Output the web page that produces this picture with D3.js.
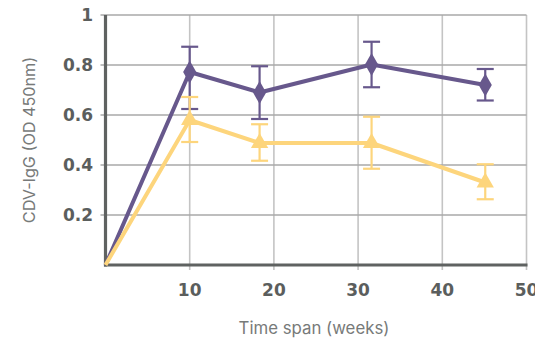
<!DOCTYPE html>
<html>
<head>
<meta charset="utf-8">
<script src="https://cdn.jsdelivr.net/npm/d3@7"></script>
<style>
  html, body { margin: 0; padding: 0; background: #fff; }
  svg { display: block; }
</style>
</head>
<body>
<svg id="chart" width="535" height="344"></svg>
<script>
// Time points (weeks) and antibody levels, with error bar bounds
const weeks = [0, 10, 18.3, 31.6, 45.1];
const groupA = [0, 0.772, 0.69, 0.802, 0.72];
const groupALow = [null, 0.624, 0.584, 0.711, 0.658];
const groupAHigh = [null, 0.873, 0.795, 0.893, 0.784];
const groupB = [0, 0.58, 0.488, 0.488, 0.33];
const groupBLow = [null, 0.492, 0.417, 0.385, 0.263];
const groupBHigh = [null, 0.672, 0.563, 0.593, 0.403];
const xTicks = [10, 20, 30, 40, 50];
const yTicks = [0.2, 0.4, 0.6, 0.8, 1];
const yTickLabels = ["0.2", "0.4", "0.6", "0.8", "1"];

const svg = d3.select("#chart");
const x = d3.scaleLinear().domain([0, 50]).range([105.5, 526.5]);
const y = d3.scaleLinear().domain([0, 1]).range([265, 15]);

const purple = "#67588c";
const yellow = "#fdd57c";
const axisGrey = "#5f6261";
const tickFont = "'DejaVu Sans', Inter, sans-serif";
const titleFont = "Inter, 'Open Sans', sans-serif";

// Vertical grid lines
svg.append("g").selectAll("line").data(xTicks).join("line")
  .attr("x1", d => x(d)).attr("x2", d => x(d))
  .attr("y1", y(1)).attr("y2", y(0) + 5)
  .attr("stroke", "#c4c4c4").attr("stroke-width", 1.6);

// Horizontal grid lines
svg.append("g").selectAll("line").data(yTicks).join("line")
  .attr("x1", x(0) - 5).attr("x2", x(50))
  .attr("y1", d => y(d)).attr("y2", d => y(d))
  .attr("stroke", "#a8a8a8").attr("stroke-width", 1.3);

// Axes lines
svg.append("line")
  .attr("x1", x(0)).attr("x2", x(0)).attr("y1", y(1)).attr("y2", y(0) + 1.5)
  .attr("stroke", axisGrey).attr("stroke-width", 3.2);
svg.append("line")
  .attr("x1", x(0) - 1.5).attr("x2", x(50) + 1).attr("y1", y(0)).attr("y2", y(0))
  .attr("stroke", axisGrey).attr("stroke-width", 3.2);

// Tick labels
svg.append("g").selectAll("text").data(yTicks).join("text")
  .attr("x", 93).attr("y", d => y(d)).attr("dy", "0.36em")
  .attr("text-anchor", "end")
  .attr("font-family", tickFont).attr("font-weight", 700)
  .attr("font-size", 17).attr("fill", "#5b5e5d")
  .text((d, i) => yTickLabels[i]);

svg.append("g").selectAll("text").data(xTicks).join("text")
  .attr("x", d => x(d)).attr("y", 295.5)
  .attr("text-anchor", "middle")
  .attr("font-family", tickFont).attr("font-weight", 700)
  .attr("font-size", 17).attr("fill", "#5b5e5d")
  .text(d => d);

// Axis titles
svg.append("text")
  .attr("x", 314).attr("y", 334)
  .attr("text-anchor", "middle")
  .attr("font-family", titleFont)
  .attr("font-size", 16.8).attr("fill", "#777a79")
  .text("Time span (weeks)");

svg.append("text")
  .attr("transform", "translate(35,140) rotate(-90)")
  .attr("text-anchor", "middle")
  .attr("font-family", titleFont)
  .attr("font-size", 16.2).attr("fill", "#777a79")
  .text("CDV-IgG (OD 450nm)");

function drawSeries(vals, lows, highs, color, shape) {
  const g = svg.append("g");
  const pts = weeks.map((w, i) => ({ w, v: vals[i], lo: lows[i], hi: highs[i] }));
  const line = d3.line().x(d => x(d.w)).y(d => y(d.v));
  g.append("path").datum(pts).attr("d", line)
    .attr("fill", "none").attr("stroke", color)
    .attr("stroke-width", 4).attr("stroke-linejoin", "round");

  const eb = pts.filter(d => d.lo !== null);
  const cap = 8.5;
  g.selectAll(".bar").data(eb).join("line")
    .attr("x1", d => x(d.w)).attr("x2", d => x(d.w))
    .attr("y1", d => y(d.lo)).attr("y2", d => y(d.hi))
    .attr("stroke", color).attr("stroke-width", 2.2);
  g.selectAll(".capHi").data(eb).join("line")
    .attr("x1", d => x(d.w) - cap).attr("x2", d => x(d.w) + cap)
    .attr("y1", d => y(d.hi)).attr("y2", d => y(d.hi))
    .attr("stroke", color).attr("stroke-width", 2.2);
  g.selectAll(".capLo").data(eb).join("line")
    .attr("x1", d => x(d.w) - cap).attr("x2", d => x(d.w) + cap)
    .attr("y1", d => y(d.lo)).attr("y2", d => y(d.lo))
    .attr("stroke", color).attr("stroke-width", 2.2);

  g.selectAll(".marker").data(eb).join("path")
    .attr("transform", d => `translate(${x(d.w)},${y(d.v)})`)
    .attr("d", d3.symbol().type(shape).size(shape === d3.symbolDiamond ? 150 : 130))
    .attr("fill", color);
}

drawSeries(groupA, groupALow, groupAHigh, purple, d3.symbolDiamond);
drawSeries(groupB, groupBLow, groupBHigh, yellow, d3.symbolTriangle);
</script>
</body>
</html>
